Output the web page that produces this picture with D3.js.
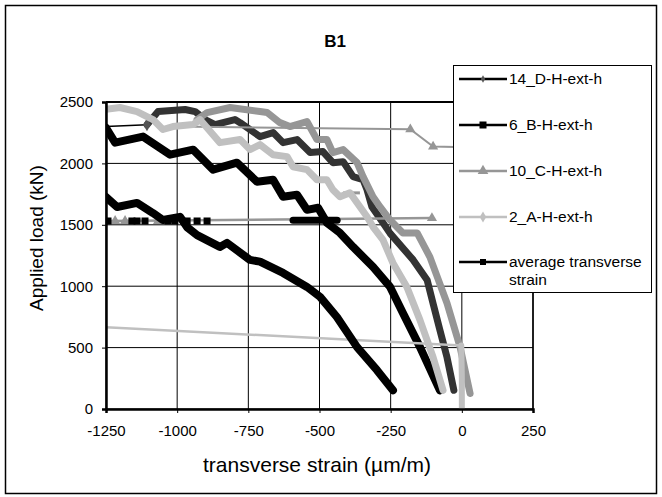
<!DOCTYPE html>
<html>
<head>
<meta charset="utf-8">
<script src="https://cdn.jsdelivr.net/npm/d3@7"></script>
<style>
    html, body { margin: 0; padding: 0; background: #fff; }
    #chart { width: 662px; height: 497px; }
    text { font-family: "Liberation Sans", Arial, sans-serif; }
</style>
</head>
<body>
<div id="chart"></div>
<script>
// ---- Data (strain in µm/m, load in kN) ----
const xTicks = [-1250, -1000, -750, -500, -250, 0, 250];
const yTicks = [0, 500, 1000, 1500, 2000, 2500];
const seriesNames = ["14_D-H-ext-h", "6_B-H-ext-h", "10_C-H-ext-h", "2_A-H-ext-h", "average transverse strain"];

// 14_D
const d14Band = [[-1106,2315],[-1067,2422],[-972,2439],[-937,2422],[-902,2357],[-867,2316],[-797,2357],[-779,2332],
    [-709,2218],[-663,2251],[-628,2169],[-579,2194],[-533,2088],[-488,2096],[-453,2006],[-417,2014],[-382,1892],
    [-347,1867],[-333,1786],[-316,1647],[-277,1516],[-252,1430],[-171,1214],[-122,1051],[-100,850],[-77,643],[-52,420],[-28,153]];
const d14Link = [[-1250,2300],[-1106,2315]];
const d14Marks = [[-1106,2315]];

// 6_B
const b6Band = [[-1250,2290],[-1218,2169],[-1120,2218],[-1025,2071],[-944,2112],[-874,1949],[-790,2006],[-720,1851],
    [-663,1867],[-628,1728],[-579,1745],[-544,1622],[-505,1639],[-474,1516],[-428,1434],[-382,1320],[-312,1157],
    [-252,994],[-207,781],[-147,504],[-77,152]];

// 10_C
const c10Band = [[-930,2357],[-895,2414],[-814,2455],[-709,2422],[-684,2414],[-639,2332],[-604,2300],[-544,2341],
    [-509,2194],[-474,2194],[-453,2088],[-417,2112],[-368,2006],[-347,1892],[-312,1728],[-287,1645],[-252,1539],
    [-207,1433],[-157,1434],[-112,1237],[-52,861],[-6,502],[29,126]];
const c10LinkLow = [[-1250,1530],[-105,1555]];
const c10LinkHigh = [[-1000,2300],[-181,2278],[-101,2137],[250,2120]];
const c10LinkMid = [[-417,1760],[-358,1760]];
const c10Marks = [[-1218,1531],[-1183,1531],[-1067,1531],[-105,1555],[-181,2278],[-101,2137]];

// 2_A
const a2Band = [[-1250,2440],[-1201,2455],[-1141,2422],[-1085,2357],[-1050,2276],[-1015,2300],[-944,2316],[-920,2357],
    [-850,2169],[-779,2194],[-744,2112],[-709,2153],[-663,2071],[-614,2055],[-593,1973],[-544,1949],[-509,1867],
    [-474,1867],[-453,1786],[-428,1728],[-393,1761],[-358,1647],[-333,1565],[-312,1484],[-277,1377],[-242,1189],
    [-193,993],[-147,724],[-101,422],[-66,152]];
const a2Link = [[-1250,666],[-2,518]];
const a2Tail = [[-2,518],[0,260],[0,0]];

// average transverse strain
const avgBand = [[-1250,1726],[-1211,1645],[-1141,1678],[-1085,1596],[-1050,1539],[-990,1565],[-965,1480],[-930,1416],
    [-850,1320],[-825,1353],[-744,1214],[-709,1200],[-628,1108],[-544,994],[-498,913],[-439,749],[-368,504],
    [-298,316],[-242,152]];
const avgFlat = [[-593,1538],[-438,1538]];
const avgMarks = [[-1243,1531],[-1159,1531],[-1141,1531],[-1113,1531],[-1032,1531],[-1008,1531],[-965,1531],[-930,1531],[-895,1531]];

class StrainChart {
    constructor(containerId) {
        this.containerId = containerId;
        this.plot = { left: 106, right: 533, top: 102, bottom: 409 };
        this.colors = { d14: "#333333", b6: "#000000", c10: "#969696", a2: "#c0c0c0", avg: "#000000" };
        this.init();
    }

    init() {
        const svg = d3.select(`#${this.containerId}`).append("svg")
            .attr("width", 662).attr("height", 497);
        this.svg = svg;

        // chart area frame
        svg.append("rect")
            .attr("x", 5.5).attr("y", 5.5).attr("width", 651).attr("height", 488)
            .attr("fill", "#fff").attr("stroke", "#000").attr("stroke-width", 1.5);

        svg.append("text")
            .attr("x", 335).attr("y", 47)
            .attr("text-anchor", "middle")
            .style("font-size", "17px").style("font-weight", "bold")
            .text("B1");

        this.x = d3.scaleLinear().domain([-1250, 250]).range([this.plot.left, this.plot.right]);
        this.y = d3.scaleLinear().domain([0, 2500]).range([this.plot.bottom, this.plot.top]);

        this.drawGrid();
        this.drawSeries();
        this.drawAxes();
        this.drawLegend();
    }

    drawGrid() {
        const { x, y, plot } = this;
        const g = this.svg.append("g");
        g.selectAll(".vgrid").data(xTicks).join("line")
            .attr("x1", d => x(d)).attr("x2", d => x(d))
            .attr("y1", plot.top).attr("y2", plot.bottom)
            .attr("stroke", "#000").attr("stroke-width", 1);
        g.selectAll(".hgrid").data(yTicks).join("line")
            .attr("x1", plot.left).attr("x2", plot.right)
            .attr("y1", d => y(d)).attr("y2", d => y(d))
            .attr("stroke", "#000").attr("stroke-width", 1);
        // thicker top edge of plot area
        g.append("line")
            .attr("x1", plot.left).attr("x2", plot.right)
            .attr("y1", plot.top).attr("y2", plot.top)
            .attr("stroke", "#000").attr("stroke-width", 2);
    }

    drawSeries() {
        const { x, y, plot } = this;
        this.svg.append("clipPath").attr("id", "plotClip")
            .append("rect")
            .attr("x", plot.left).attr("y", plot.top - 4)
            .attr("width", plot.right - plot.left).attr("height", plot.bottom - plot.top + 4);

        const g = this.svg.append("g").attr("clip-path", "url(#plotClip)");
        const line = d3.line().x(d => x(d[0])).y(d => y(d[1]));

        const thin = (data, color, w) => g.append("path").datum(data)
            .attr("fill", "none").attr("stroke", color).attr("stroke-width", w)
            .attr("d", line);
        const band = (data, color, w) => g.append("path").datum(data)
            .attr("fill", "none").attr("stroke", color).attr("stroke-width", w)
            .attr("stroke-linejoin", "round").attr("stroke-linecap", "round")
            .attr("d", line);

        // 14_D
        thin(d14Link, "#000", 1.5);
        band(d14Band, this.colors.d14, 7);
        g.selectAll(".m14").data(d14Marks).join("path")
            .attr("transform", d => `translate(${x(d[0])},${y(d[1])})`)
            .attr("d", d3.symbol(d3.symbolDiamond, 50))
            .attr("fill", "#555");

        // 6_B
        band(b6Band, this.colors.b6, 8);

        // 10_C
        thin(c10LinkHigh, this.colors.c10, 2);
        thin(c10LinkLow, this.colors.c10, 2.5);
        thin(c10LinkMid, this.colors.c10, 3);
        band(c10Band, this.colors.c10, 7);
        g.selectAll(".m10").data(c10Marks).join("path")
            .attr("transform", d => `translate(${x(d[0])},${y(d[1])})`)
            .attr("d", d3.symbol(d3.symbolTriangle, 45))
            .attr("fill", this.colors.c10);

        // 2_A
        thin(a2Link, this.colors.a2, 2.5);
        band(a2Band, this.colors.a2, 7);
        band(a2Tail, this.colors.a2, 6);

        // average
        band(avgBand, this.colors.avg, 8);
        band(avgFlat, this.colors.avg, 7);
        g.selectAll(".mavg").data(avgMarks).join("rect")
            .attr("x", d => x(d[0]) - 3.5).attr("y", d => y(d[1]) - 3.5)
            .attr("width", 7).attr("height", 7)
            .attr("fill", "#000");
    }

    drawAxes() {
        const { x, y, plot } = this;
        const fmt = d => String(d);   // plain hyphen minus, as in the original

        const xAxis = this.svg.append("g")
            .attr("transform", `translate(0,${plot.bottom})`)
            .call(d3.axisBottom(x).tickValues(xTicks).tickSize(4).tickPadding(12).tickFormat(fmt));
        xAxis.select(".domain").attr("stroke", "#000").attr("stroke-width", 2.5);
        xAxis.selectAll("text").style("font-size", "15px").attr("fill", "#000")
            .style("font-family", "'Liberation Sans', Arial, sans-serif");

        const yAxis = this.svg.append("g")
            .attr("transform", `translate(${plot.left},0)`)
            .call(d3.axisLeft(y).tickValues(yTicks).tickSize(4).tickPadding(9).tickFormat(fmt));
        yAxis.select(".domain").attr("stroke", "#000").attr("stroke-width", 2.5);
        yAxis.selectAll("text").style("font-size", "15px").attr("fill", "#000")
            .style("font-family", "'Liberation Sans', Arial, sans-serif");

        // right edge of plot
        this.svg.append("line")
            .attr("x1", plot.right).attr("x2", plot.right)
            .attr("y1", plot.top).attr("y2", plot.bottom)
            .attr("stroke", "#000").attr("stroke-width", 1.5);

        this.svg.append("text")
            .attr("x", 317).attr("y", 472)
            .attr("text-anchor", "middle")
            .style("font-size", "21px")
            .text("transverse strain (µm/m)");

        this.svg.append("text")
            .attr("transform", "translate(43,238) rotate(-90)")
            .attr("text-anchor", "middle")
            .style("font-size", "19px")
            .text("Applied load (kN)");
    }

    drawLegend() {
        const lg = this.svg.append("g");
        lg.append("rect")
            .attr("x", 453.5).attr("y", 65.5).attr("width", 198).attr("height", 227)
            .attr("fill", "#fff").attr("stroke", "#000").attr("stroke-width", 1);

        const items = [
            { name: seriesNames[0], line: "#000", mark: "#555", sym: "diamond", size: 4 },
            { name: seriesNames[1], line: "#000", mark: "#000", sym: "square", size: 7 },
            { name: seriesNames[2], line: this.colors.c10, mark: this.colors.c10, sym: "triangle", size: 7 },
            { name: seriesNames[3], line: this.colors.a2, mark: this.colors.a2, sym: "diamond", size: 6 },
            { name: seriesNames[4], line: "#000", mark: "#000", sym: "square", size: 6 }
        ];
        const rowY = [79, 125, 171, 217, 262];

        items.forEach((it, i) => {
            const cy = rowY[i];
            lg.append("line")
                .attr("x1", 459).attr("x2", 507).attr("y1", cy).attr("y2", cy)
                .attr("stroke", it.line).attr("stroke-width", 2.5);
            if (it.sym === "square") {
                lg.append("rect")
                    .attr("x", 483 - it.size / 2).attr("y", cy - it.size / 2)
                    .attr("width", it.size).attr("height", it.size).attr("fill", it.mark);
            } else {
                const type = it.sym === "triangle" ? d3.symbolTriangle : d3.symbolDiamond;
                lg.append("path")
                    .attr("transform", `translate(483,${cy})`)
                    .attr("d", d3.symbol(type, it.size * it.size))
                    .attr("fill", it.mark);
            }
            const words = it.name === "average transverse strain" ? ["average transverse", "strain"] : [it.name];
            words.forEach((w, k) => {
                lg.append("text")
                    .attr("x", 509).attr("y", cy + 5 + k * 18)
                    .style("font-size", "15.5px")
                    .text(w);
            });
        });
    }
}

new StrainChart("chart");
</script>
</body>
</html>
